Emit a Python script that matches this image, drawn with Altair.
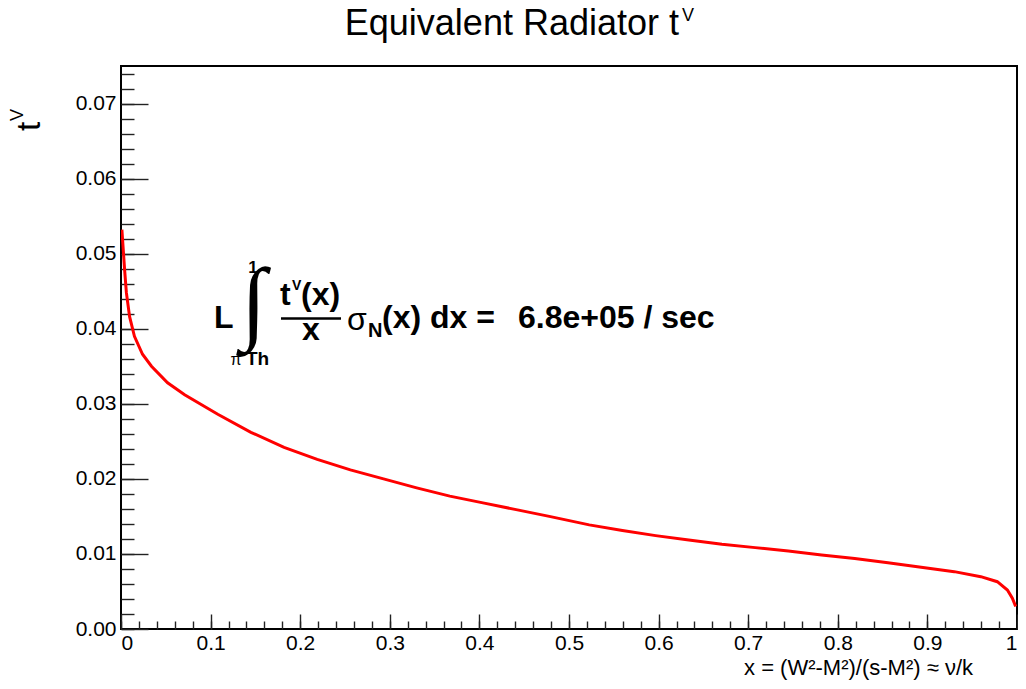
import altair as alt
import pandas as pd

# ---- data ----
x_vals = [0.001, 0.004, 0.006, 0.0096, 0.015, 0.024, 0.034, 0.052, 0.071, 0.108,
          0.145, 0.182, 0.219, 0.256, 0.293, 0.330, 0.367, 0.404, 0.441, 0.478,
          0.5226, 0.5596, 0.5967, 0.6337, 0.6707, 0.7078, 0.7448, 0.7819, 0.8189,
          0.856, 0.893, 0.930, 0.9596, 0.978, 0.9893, 0.9948, 0.9985]
t_vals = [0.0532, 0.0479, 0.0448, 0.0416, 0.0390, 0.0366, 0.0350, 0.0328, 0.0312, 0.0286,
          0.0262, 0.0242, 0.0226, 0.0212, 0.0200, 0.0188, 0.0177, 0.0168, 0.0159, 0.0150,
          0.01387, 0.01311, 0.01244, 0.01187, 0.01129, 0.01084, 0.0104, 0.00987, 0.00938,
          0.00884, 0.00822, 0.00764, 0.00697, 0.0063, 0.0052, 0.0041, 0.0030]

x_major = [0, 0.1, 0.2, 0.3, 0.4, 0.5, 0.6, 0.7, 0.8, 0.9, 1.0]
x_minor = [round(i * 0.02, 2) for i in range(51)]
y_major = [0, 0.01, 0.02, 0.03, 0.04, 0.05, 0.06, 0.07]
y_minor = [round(i * 0.002, 3) for i in range(38)]

title_main = "Equivalent Radiator t"
title_sup = "V"
x_title = "x = (W\u00b2-M\u00b2)/(s-M\u00b2) \u2248 \u03bd/k"
value_text = "6.8e+05 / sec"

FONT = "Liberation Sans"
OX, OY = 121, 66  # absolute page position of the plot origin
W, H = 896, 563

df = pd.DataFrame({"x": x_vals, "t": t_vals})

xs = alt.Scale(domain=[0, 1], nice=False, zero=False)
ys = alt.Scale(domain=[0, 0.075], nice=False, zero=False)

line = alt.Chart(df).mark_line(color="#ff0000", strokeWidth=3, clip=True).encode(
    x=alt.X("x:Q", scale=xs, axis=alt.Axis(
        values=x_major, format=".1~f", ticks=False, tickSize=0, domain=False, grid=False,
        labelFont=FONT, labelFontSize=21, labelColor="black", labelPadding=3,
        title=None, orient="bottom")),
    y=alt.Y("t:Q", scale=ys, axis=alt.Axis(
        values=y_major, format=".2f", ticks=False, tickSize=0, domain=False, grid=False,
        labelFont=FONT, labelFontSize=21, labelColor="black", labelPadding=5,
        title=None, orient="left")),
)


def tick_layer(xv, yv, xsize, ysize):
    return alt.Chart(df).mark_line(strokeOpacity=0).encode(
        x=alt.X("x:Q", scale=xs, axis=alt.Axis(
            values=xv, orient="top", offset=-H, tickSize=xsize, labels=False,
            domain=False, grid=False, title=None, tickColor="#222", tickWidth=1.4)),
        y=alt.Y("t:Q", scale=ys, axis=alt.Axis(
            values=yv, orient="right", offset=-W, tickSize=ysize, labels=False,
            domain=False, grid=False, title=None, tickColor="#222", tickWidth=1.4)),
    )


major = tick_layer(x_major, y_major, 15, 27)
minor = tick_layer(x_minor, y_minor, 8, 13)


def label(text, ax, ay, size, bold=False, align="left", angle=0, font=FONT, weight=None):
    w = weight if weight is not None else ("bold" if bold else "normal")
    return alt.Chart(alt.Data(values=[{}])).mark_text(
        text=text, fontSize=size, fontWeight=w,
        font=font, align=align, baseline="alphabetic", angle=angle, color="black"
    ).encode(x=alt.value(ax - OX), y=alt.value(ay - OY))


texts = [
    label(title_main, 679, 35, 36, align="right"),
    label(title_sup, 682, 21, 18),
    label("t", 40, 131, 33, angle=270),
    label("V", 23, 121, 18, angle=270),
    label(x_title, 973, 675, 22, align="right"),
    # formula
    label("L", 214, 328, 32, bold=True),
    label("\u222b", 241, 332, 92, font="DejaVu Sans", weight=200),
    label("1", 253, 273, 17, bold=True, align="center"),
    label("\u03c0", 236, 365, 16, align="center"),
    label("Th", 246, 365, 19, bold=True),
    label("t", 280, 305, 32, bold=True),
    label("V", 292, 290, 14, bold=True),
    label("(x)", 301, 305, 32, bold=True),
    label("x", 311, 340, 32, bold=True, align="center"),
    label("\u03c3", 347, 330, 32),
    label("N", 368, 337, 20, bold=True),
    label("(x) dx =", 382, 328, 32, bold=True),
    label(value_text, 518, 328, 32, bold=True),
]

frac_bar = alt.Chart(alt.Data(values=[{}])).mark_rule(color="black", strokeWidth=2.5).encode(
    x=alt.value(281 - OX), x2=alt.value(341 - OX), y=alt.value(318.5 - OY))

chart = alt.layer(line, major, minor, frac_bar, *texts).resolve_axis(
    x="independent", y="independent"
).properties(
    width=W, height=H, autosize="none",
    padding={"left": OX - 8, "top": OY - 8, "right": 1010 - (OX - 8) - W,
             "bottom": 52},
).configure_view(stroke="black", strokeWidth=2)

chart.save("out.html", embed_options={"renderer": "svg", "actions": False})
